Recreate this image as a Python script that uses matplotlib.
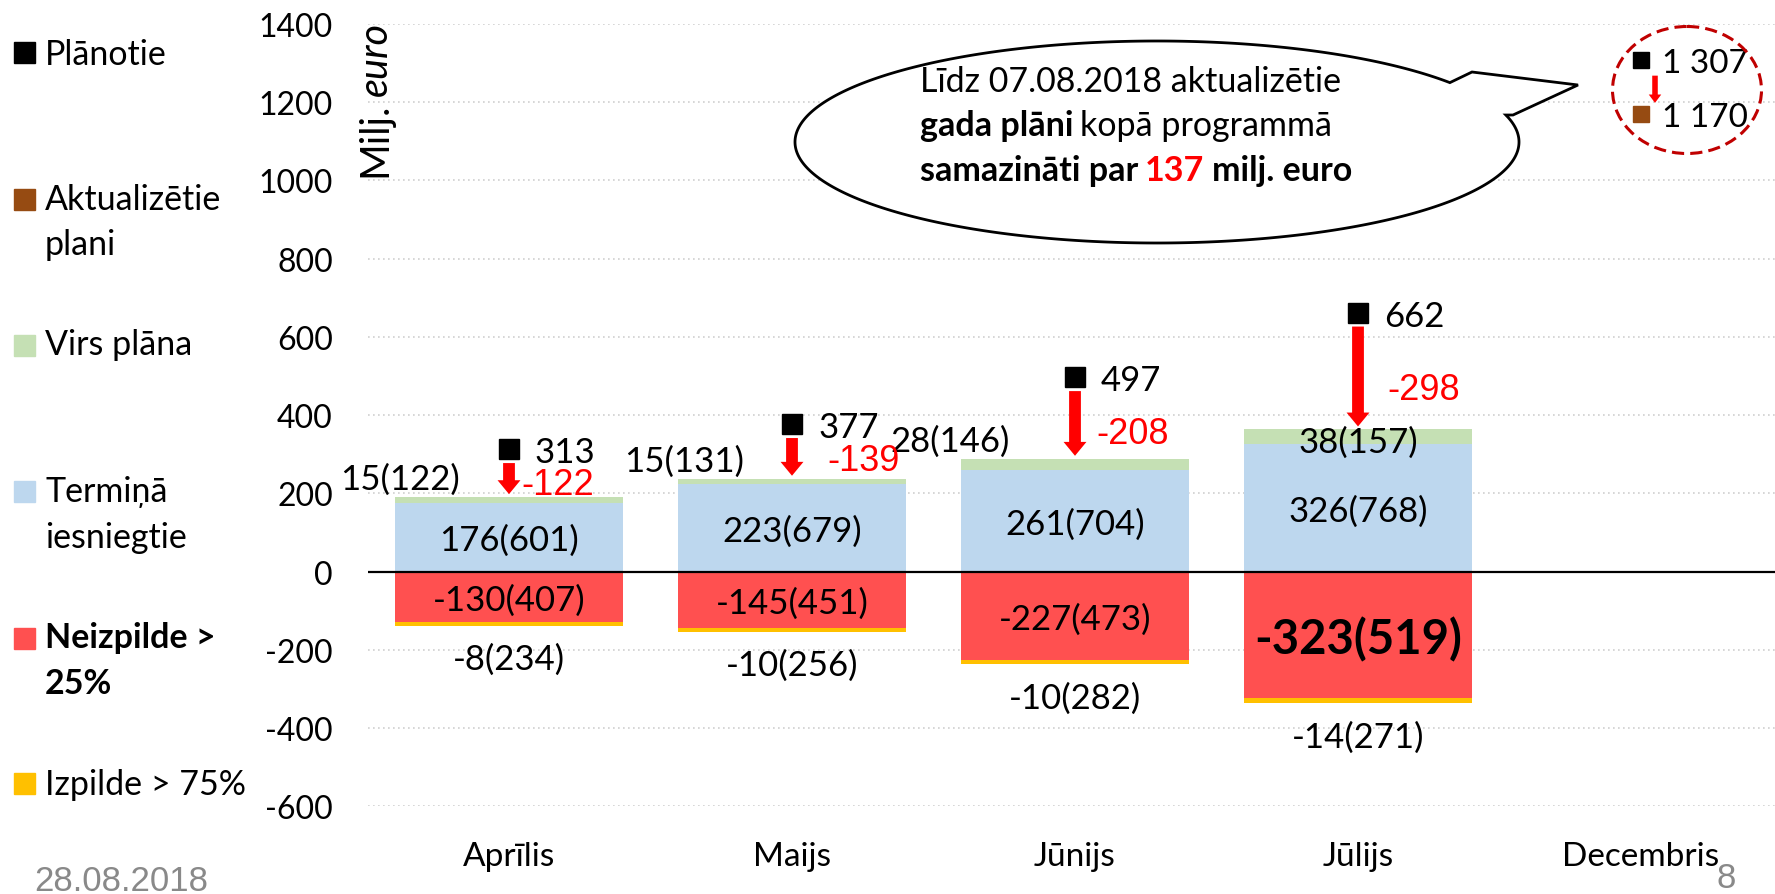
import matplotlib
matplotlib.use('Agg')
import matplotlib.pyplot as plt
from matplotlib.patches import Rectangle, Ellipse, Polygon, FancyArrowPatch
from matplotlib.transforms import ScaledTranslation
import numpy as np

# ---------------- data ----------------
months = ['Aprīlis', 'Maijs', 'Jūnijs', 'Jūlijs', 'Decembris']
on_time = [176, 223, 261, 326]            # Termiņā iesniegtie
on_time_n = [601, 679, 704, 768]
above_plan = [15, 15, 28, 38]             # Virs plāna
above_plan_n = [122, 131, 146, 157]
non_fulfil = [-130, -145, -227, -323]     # Neizpilde > 25%
non_fulfil_n = [407, 451, 473, 519]
fulfil75 = [-8, -10, -10, -14]            # Izpilde > 75%
fulfil75_n = [234, 256, 282, 271]
planned = [313, 377, 497, 662, 1307]      # Plānotie
plan_change = [-122, -139, -208, -298]
updated_plan_dec = 1170                   # Aktualizētie plani
yticks = [-600, -400, -200, 0, 200, 400, 600, 800, 1000, 1200, 1400]

legend_labels = [['Plānotie'], ['Aktualizētie', 'plani'], ['Virs plāna'],
                 ['Termiņā', 'iesniegtie'], ['Neizpilde >', '25%'], ['Izpilde > 75%']]

# ---------------- style ----------------
W, H = 1775, 895
FONT = ['Lato', 'DejaVu Sans']
ARIAL = ['Liberation Sans', 'DejaVu Sans']
plt.rcParams['font.family'] = FONT
plt.rcParams['axes.unicode_minus'] = False

BLACK = '#000000'
BROWN = '#964B12'
GREEN = '#C5E0B4'
BLUE = '#BDD7EE'
RED = '#FF5050'
YELLOW = '#FFC000'
legend_colors = [BLACK, BROWN, GREEN, BLUE, RED, YELLOW]
legend_bold = [False, False, False, False, True, False]
FS = 25      # data label size
LFS = 24.5   # legend size

fig = plt.figure(figsize=(W / 100, H / 100), dpi=100)
ax = fig.add_axes([367.5 / W, 1 - 807.3 / H, 1415 / W, (807.3 - 25) / H])
ax.set_xlim(-0.5, 4.5)
ax.set_ylim(-600, 1400)
for s in ax.spines.values():
    s.set_visible(False)
ax.set_yticks(yticks)
ax.set_yticklabels([str(v) for v in yticks], fontsize=23)
ax.set_xticks(range(len(months)))
ax.set_xticklabels(months, fontsize=24)
ax.tick_params(axis='y', length=0, pad=25)
ax.tick_params(axis='x', length=0, pad=25)
ax.yaxis.grid(True, linestyle=(0, (1, 2)), color='#D0D0D0', lw=1.2, zorder=0)
ax.set_axisbelow(True)

x = np.arange(len(on_time))
bw = 0.805
top = [a + b for a, b in zip(on_time, above_plan)]
bottom = [a + b for a, b in zip(non_fulfil, fulfil75)]
ax.bar(x, on_time, bw, color=BLUE, zorder=2)
ax.bar(x, above_plan, bw, bottom=on_time, color=GREEN, zorder=2)
ax.bar(x, non_fulfil, bw, color=RED, zorder=2)
ax.bar(x, fulfil75, bw, bottom=non_fulfil, color=YELLOW, zorder=2)
ax.axhline(0, color='black', lw=1.6, zorder=3)

# labels inside / around bars
for i in x:
    ax.text(i, on_time[i] / 2, f'{on_time[i]}({on_time_n[i]})', ha='center',
            va='center_baseline', fontsize=FS, zorder=5)
nf_size = [FS, FS, FS, 34]
nf_weight = ['normal', 'normal', 'normal', 'bold']
for i in x:
    ax.text(i, non_fulfil[i] / 2, f'{non_fulfil[i]}({non_fulfil_n[i]})', ha='center',
            va='center_baseline', fontsize=nf_size[i], fontweight=nf_weight[i], zorder=5)
for i in x:
    ax.annotate(f'{fulfil75[i]}({fulfil75_n[i]})', xy=(i, bottom[i]), xytext=(0, -30),
                textcoords='offset pixels', ha='center', va='center_baseline', fontsize=FS)
green_off = [(-109, 21), (-108, 21), (-125, 21), (0, -10)]
for i in x:
    ax.annotate(f'{above_plan[i]}({above_plan_n[i]})', xy=(i, top[i]), xytext=green_off[i],
                textcoords='offset pixels', ha='center', va='center_baseline', fontsize=FS,
                zorder=6)

# planned markers, labels, arrows
ax.plot(x, planned[:4], 's', color=BLACK, ms=15, zorder=6, clip_on=False)
for i in x:
    ax.annotate(f'{planned[i]}', xy=(i, planned[i]), xytext=(26, 0), textcoords='offset pixels',
                ha='left', va='center_baseline', fontsize=FS)
    ax.annotate('', xy=(i, planned[i] + plan_change[i]), xytext=(i, planned[i]),
                arrowprops=dict(arrowstyle='simple,head_width=1.65,head_length=1.0,tail_width=0.85',
                                mutation_scale=10, color='#FF0000', shrinkA=10, shrinkB=2, lw=0),
                zorder=6)
chg_off = [(49, -31), (72, -32), (58, -52), (66, -73)]
for i in x:
    ax.annotate(f'{plan_change[i]}', xy=(i, planned[i]), xytext=chg_off[i],
                textcoords='offset pixels', ha='center', va='center_baseline', fontsize=26,
                color='#FF0000', family=ARIAL, zorder=7)

# December: planned vs updated
ax.plot([4], [planned[4]], 's', color=BLACK, ms=11.5, zorder=6, clip_on=False)
ax.plot([4], [updated_plan_dec], 's', color=BROWN, ms=11.5, zorder=6, clip_on=False)
for v in (planned[4], updated_plan_dec):
    ax.annotate(f'{v:,}'.replace(',', ' '), xy=(4, v), xytext=(21, 0), textcoords='offset pixels',
                ha='left', va='center_baseline', fontsize=24, annotation_clip=False)
arr = FancyArrowPatch((4, planned[4]), (4, updated_plan_dec),
                      transform=ax.transData + ScaledTranslation(14 / 100, 0, fig.dpi_scale_trans),
                      arrowstyle='simple,head_width=0.9,head_length=0.6,tail_width=0.4',
                      mutation_scale=10, color='#FF0000', shrinkA=11, shrinkB=8, lw=0, zorder=6)
arr.set_clip_on(False)
ax.add_patch(arr)

# ---------------- overlay (pixel coordinates, y downwards) ----------------
ov = fig.add_axes([0, 0, 1, 1], zorder=5)
ov.set_xlim(0, W)
ov.set_ylim(H, 0)
ov.set_autoscale_on(False)
ov.axis('off')

# speech bubble (ellipse with a wedge pointing to the December values)
cx, cy, a, b = 1157, 143, 362, 101
th1, th2 = np.deg2rad(15.5), np.deg2rad(36)
t = np.linspace(th2, th1 + 2 * np.pi, 600)
arc = np.column_stack([cx + a * np.cos(t), cy - b * np.sin(t)])
wedge = np.array([[1513, 116], [1578, 86], [1472, 73]])
ov.add_patch(Polygon(np.vstack([arc, wedge]), closed=True, facecolor='white',
                     edgecolor='black', lw=2, zorder=2))

def rich_line(x0, y0, segs, fs=24.5):
    prev = None
    for txt, wt, col, gap in segs:
        if prev is None:
            prev = ov.text(x0, y0, txt, fontsize=fs, fontweight=wt, color=col,
                           ha='left', va='baseline', zorder=3)
        else:
            prev = ov.annotate(txt, xy=(1, 0), xycoords=prev, xytext=(gap, 0),
                               textcoords='offset pixels', fontsize=fs, fontweight=wt,
                               color=col, ha='left', va='bottom', zorder=3)

SP = 7
rich_line(920, 92, [('Līdz 07.08.2018 aktualizētie', 'normal', 'black', 0)])
rich_line(920, 136, [('gada plāni', 'bold', 'black', 0), ('kopā programmā', 'normal', 'black', SP)])
rich_line(920, 181, [('samazināti par', 'bold', 'black', 0), ('137', 'bold', '#FF0000', SP),
                     ('milj. euro', 'bold', 'black', SP)])

# dashed circle around December values
ov.add_patch(Ellipse((1687, 91), 149, 127, fill=False, edgecolor='#C00000', lw=2.2,
                     ls=(0, (4, 2)), zorder=2))

# y-axis title
t1 = ov.text(375, 177, 'Milj.', rotation=90, ha='center', va='bottom', fontsize=28.5)
ov.annotate('euro', xy=(0.5, 1), xycoords=t1, xytext=(0, 7), textcoords='offset pixels',
            rotation=90, ha='center', va='bottom', fontsize=28.5, style='italic')

# legend
sq_centers = [53, 200, 346, 492, 639, 784]
baselines = [[65], [210, 255], [355], [502, 548], [648, 694], [795]]
for lab, col, bold, yc, bl in zip(legend_labels, legend_colors, legend_bold, sq_centers, baselines):
    ov.add_patch(Rectangle((14, yc - 10.5), 21, 21, color=col, zorder=2))
    for line, yb in zip(lab, bl):
        ov.text(45, yb, line, fontsize=LFS, fontweight='bold' if bold else 'normal',
                ha='left', va='baseline')

# footer
ov.text(34, 882, '28.08.2018', family=ARIAL, fontsize=25, color='#898989', ha='left', va='center')
ov.text(1726, 879, '8', family=ARIAL, fontsize=25, color='#898989', ha='center', va='center')

fig.savefig('out.png', dpi=100)
